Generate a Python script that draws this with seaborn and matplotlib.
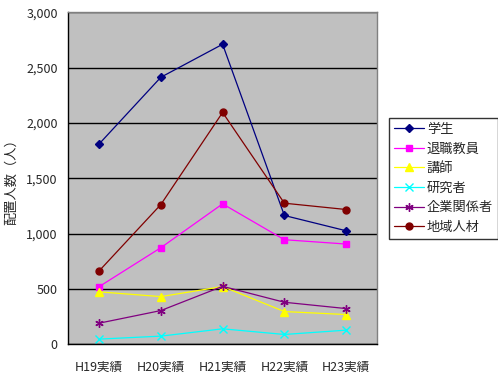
import matplotlib
matplotlib.use("Agg")
import matplotlib.pyplot as plt
from matplotlib.ticker import FuncFormatter, FixedLocator
import pandas as pd
import seaborn as sns

years = ["H19実績", "H20実績", "H21実績", "H22実績", "H23実績"]
gakusei = [1811, 2414, 2712, 1165, 1027]
taishoku = [522, 874, 1270, 946, 907]
koshi = [475, 432, 523, 297, 270]
kenkyusha = [48, 75, 141, 90, 129]
kigyo = [192, 306, 525, 381, 324]
chiiki = [664, 1264, 2096, 1276, 1219]

series = ["学生", "退職教員", "講師", "研究者", "企業関係者", "地域人材"]
values = [gakusei, taishoku, koshi, kenkyusha, kigyo, chiiki]
colors = ["#000080", "#FF00FF", "#FFFF00", "#00FFFF", "#800080", "#800000"]
marks = ["D", "s", "^", "x", (6, 2, 0), "o"]
msizes = [4, 5, 5.5, 5.5, 6, 5]

rows = []
for name, vals in zip(series, values):
    for y, v in zip(years, vals):
        rows.append({"year": y, "series": name, "value": v})
df = pd.DataFrame(rows)

sns.set_style("white")
plt.rcParams["font.family"] = ["Noto Sans CJK JP", "DejaVu Sans"]

fig = plt.figure(figsize=(4.98, 3.87), dpi=100)
ax = fig.add_axes([0.137, 0.110, 0.620, 0.858])
ax.set_facecolor("#C0C0C0")

for name, c, m, ms in zip(series, colors, marks, msizes):
    sub = df[df["series"] == name]
    sns.lineplot(data=sub, x="year", y="value", ax=ax, color=c, marker=m,
                 markersize=ms, markeredgecolor=c, markeredgewidth=1,
                 linewidth=0.9, label=name, sort=False)

ax.set_xlim(-0.5, 4.5)
ax.set_ylim(0, 3000)
ax.set_yticks(range(0, 3001, 500))
ax.yaxis.set_major_formatter(FuncFormatter(lambda v, p: f"{int(v):,}"))
ax.yaxis.grid(True, color="black", linewidth=1)
ax.set_axisbelow(True)

ax.set_xticks(range(len(years)))
ax.set_xticklabels(years)
ax.xaxis.set_minor_locator(FixedLocator([i - 0.5 for i in range(len(years) + 1)]))
ax.tick_params(axis="x", which="major", length=0, pad=12, labelsize=9)
ax.tick_params(axis="x", which="minor", length=4, width=1, color="black", direction="out")
ax.tick_params(axis="y", which="major", length=4, width=1, color="black", direction="out", labelsize=9)

ax.set_xlabel("")
ax.set_ylabel("配置人数（人）", fontsize=9.5)
ax.yaxis.set_label_coords(-0.162, 0.5)

for s in ["left", "bottom"]:
    ax.spines[s].set_color("black")
    ax.spines[s].set_linewidth(1)
for s in ["top", "right"]:
    ax.spines[s].set_color("#808080")
    ax.spines[s].set_linewidth(1)

leg = ax.legend(loc="center left", bbox_to_anchor=(1.04, 0.5), frameon=True,
                fancybox=False, edgecolor="black", fontsize=9.5,
                handlelength=2.3, borderpad=0.35, labelspacing=0.5,
                handletextpad=0.2, borderaxespad=0)
leg.get_frame().set_linewidth(1)

fig.savefig("out.png", dpi=100, facecolor="white")
